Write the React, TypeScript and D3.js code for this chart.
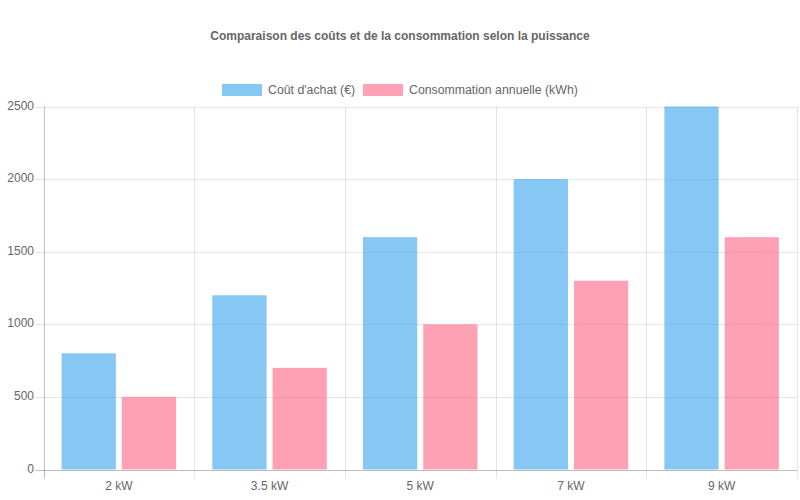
import React from "react";
import * as d3 from "d3";

const categories = ["2 kW", "3.5 kW", "5 kW", "7 kW", "9 kW"];
const seriesNames = ["Coût d'achat (€)", "Consommation annuelle (kWh)"];
const purchaseCost = [800, 1200, 1600, 2000, 2500];
const annualConsumption = [500, 700, 1000, 1300, 1600];
const yTicks = [0, 500, 1000, 1500, 2000, 2500];

const seriesValues = [purchaseCost, annualConsumption];
const fills = ["rgba(54,162,235,0.6)", "rgba(255,99,132,0.6)"];

const width = 800;
const height = 500;
const left = 43.5;
const right = 797;
const top = 106.5;
const bottom = 469.5;
const font = "'Liberation Sans', Arial, Helvetica, sans-serif";

const x0 = d3.scaleBand<string>().domain(categories).range([left, right]).padding(0);
const bw = x0.bandwidth();
const x1 = d3
  .scaleBand<string>()
  .domain(seriesNames)
  .range([bw * 0.1, bw * 0.9])
  .paddingInner(0.1)
  .paddingOuter(0.05);
const y = d3.scaleLinear().domain([0, 2500]).range([bottom, top]);

// legend positions (Chart.js style: 40px box, 6px gap to text, 10px between items)
const legendX = [222, 363];

const App = () => {
  const gridLines = categories.map((c) => x0(c) as number).concat([right]);
  return (
    <svg
      width={width}
      height={height}
      style={{ position: "absolute", left: 0, top: 0, fontFamily: font }}
    >
      <rect width={width} height={height} fill="#fff" />
      <text
        x={400}
        y={37}
        textAnchor="middle"
        dominantBaseline="middle"
        fontSize={12}
        fontWeight="bold"
        fill="#666"
      >
        Comparaison des coûts et de la consommation selon la puissance
      </text>

      {seriesNames.map((name, i) => (
        <g key={name}>
          <rect x={legendX[i]} y={84} width={40} height={12} fill={fills[i]} />
          <text
            x={legendX[i] + 46}
            y={90.5}
            dominantBaseline="middle"
            fontSize={12.3}
            fill="#666"
          >
            {name}
          </text>
        </g>
      ))}

      {/* horizontal grid */}
      {yTicks.map((t) => (
        <g key={t}>
          <line
            x1={left - 8}
            x2={right}
            y1={Math.round(y(t)) + 0.5}
            y2={Math.round(y(t)) + 0.5}
            stroke={t === 0 ? "rgba(0,0,0,0.25)" : "rgba(0,0,0,0.1)"}
          />
          <text
            x={34}
            y={y(t)}
            textAnchor="end"
            dominantBaseline="middle"
            fontSize={12}
            fill="#666"
          >
            {t}
          </text>
        </g>
      ))}

      {/* vertical grid */}
      {gridLines.map((gx, i) => (
        <line
          key={i}
          x1={Math.round(gx) + 0.5}
          x2={Math.round(gx) + 0.5}
          y1={top}
          y2={bottom + 9}
          stroke={i === 0 ? "rgba(0,0,0,0.25)" : "rgba(0,0,0,0.1)"}
        />
      ))}

      {categories.map((c, ci) => (
        <g key={c} transform={`translate(${x0(c)},0)`}>
          {seriesNames.map((s, si) => {
            const v = seriesValues[si][ci];
            return (
              <rect
                key={s}
                x={x1(s) as number}
                y={y(v)}
                width={x1.bandwidth()}
                height={y(0) - y(v)}
                fill={fills[si]}
              />
            );
          })}
          <text
            x={bw / 2}
            y={487}
            textAnchor="middle"
            dominantBaseline="middle"
            fontSize={12}
            fill="#666"
          >
            {c}
          </text>
        </g>
      ))}
    </svg>
  );
};

export default App;
